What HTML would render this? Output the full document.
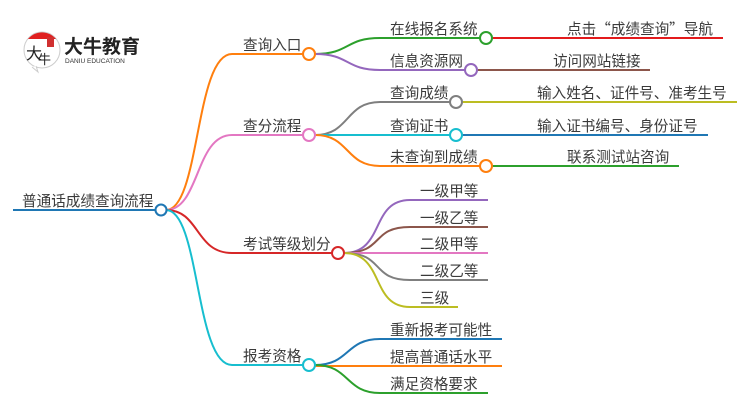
<!DOCTYPE html>
<html><head><meta charset="utf-8"><style>
html,body{margin:0;padding:0;background:#fff;}
svg{display:block;}
text{font-family:"Liberation Sans","Noto Sans CJK SC",sans-serif;font-size:14.6px;fill:#3a3a3a;}
</style></head><body>
<svg width="750" height="410" viewBox="0 0 750 410" xmlns="http://www.w3.org/2000/svg">
<g fill="none" stroke-width="2">
<line x1="13" y1="210" x2="156" y2="210" stroke="#1f77b4"/>
<path d="M166,210 C200,210 195,54 232,54 L303,54" stroke="#ff7f0e"/>
<path d="M166,210 C200,210 195,135 232,135 L303,135" stroke="#e377c2"/>
<path d="M166,210 C200,210 195,253 232,253 L332,253" stroke="#d62728"/>
<path d="M166,210 C200,210 195,365 232,365 L303,365" stroke="#17becf"/>
<path d="M315,54 C350,54 345,38 380,38 L480,38" stroke="#2ca02c"/>
<path d="M315,54 C350,54 345,70 380,70 L465,70" stroke="#9467bd"/>
<line x1="492" y1="38" x2="723" y2="38" stroke="#e31a1c"/>
<line x1="477" y1="70" x2="650" y2="70" stroke="#8c564b"/>
<path d="M315,135 C350,135 345,102 380,102 L450,102" stroke="#7f7f7f"/>
<line x1="315" y1="135" x2="450" y2="135" stroke="#17becf"/>
<path d="M315,135 C350,135 345,166 380,166 L480,166" stroke="#ff7f0e"/>
<line x1="462" y1="102" x2="737" y2="102" stroke="#bcbd22"/>
<line x1="462" y1="135" x2="708" y2="135" stroke="#1f77b4"/>
<line x1="492" y1="166" x2="679" y2="166" stroke="#2ca02c"/>
<path d="M344,253 C385,253 370,200 410,200 L488,200" stroke="#9467bd"/>
<path d="M344,253 C385,253 370,227 410,227 L488,227" stroke="#8c564b"/>
<line x1="344" y1="253" x2="488" y2="253" stroke="#e377c2"/>
<path d="M344,253 C385,253 370,280 410,280 L488,280" stroke="#7f7f7f"/>
<path d="M344,253 C385,253 370,307 410,307 L458,307" stroke="#bcbd22"/>
<path d="M315,365 C350,365 345,339 380,339 L502,339" stroke="#1f77b4"/>
<line x1="315" y1="366" x2="502" y2="366" stroke="#ff7f0e"/>
<path d="M315,365 C350,365 345,393 380,393 L488,393" stroke="#2ca02c"/>
</g>
<g fill="#fff" stroke-width="2">
<circle cx="161" cy="210" r="5.5" stroke="#1f77b4"/>
<circle cx="309" cy="54" r="6" stroke="#ff7f0e"/>
<circle cx="309" cy="135" r="6" stroke="#e377c2"/>
<circle cx="338" cy="253" r="6" stroke="#d62728"/>
<circle cx="309" cy="365" r="6" stroke="#17becf"/>
<circle cx="486" cy="38" r="6" stroke="#2ca02c"/>
<circle cx="471" cy="70" r="6" stroke="#9467bd"/>
<circle cx="456" cy="102" r="6" stroke="#7f7f7f"/>
<circle cx="456" cy="135" r="6" stroke="#17becf"/>
<circle cx="486" cy="166" r="6" stroke="#ff7f0e"/>
</g>
<text x="22" y="206">普通话成绩查询流程</text>
<text x="243" y="50">查询入口</text>
<text x="243" y="131">查分流程</text>
<text x="243" y="249">考试等级划分</text>
<text x="243" y="361">报考资格</text>
<text x="390" y="34">在线报名系统</text>
<text x="390" y="66">信息资源网</text>
<text x="390" y="98">查询成绩</text>
<text x="390" y="131">查询证书</text>
<text x="390" y="162">未查询到成绩</text>
<text x="567" y="34" style="font-family:'Noto Sans CJK SC',sans-serif">点击“成绩查询”导航</text>
<text x="553" y="66">访问网站链接</text>
<text x="537" y="98">输入姓名、证件号、准考生号</text>
<text x="537" y="131">输入证书编号、身份证号</text>
<text x="567" y="162">联系测试站咨询</text>
<text x="420" y="196">一级甲等</text>
<text x="420" y="223">一级乙等</text>
<text x="420" y="249">二级甲等</text>
<text x="420" y="276">二级乙等</text>
<text x="420" y="303">三级</text>
<text x="390" y="335">重新报考可能性</text>
<text x="390" y="362">提高普通话水平</text>
<text x="390" y="389">满足资格要求</text>
<!-- logo -->
<circle cx="42" cy="50" r="18" fill="#fff" stroke="#ccc" stroke-width="1"/>
<path d="M28,39 A18,18 0 0 1 56,39 Z" fill="#e02020"/>
<rect x="47" y="37" width="7" height="10" fill="#d03030"/>
<path d="M32,67 L38,72 L36,66" fill="#fff" stroke="#ccc" stroke-width="1"/>
<text x="26" y="59" style="font-size:16px;fill:#222">大</text>
<text x="38" y="64" style="font-size:13px;fill:#222">牛</text>
<text x="64" y="53" style="font-size:19px;font-weight:bold;fill:#222">大牛教育</text>
<text x="65" y="63" style="font-size:6.5px;fill:#333">DANIU EDUCATION</text>
</svg>
</body></html>
